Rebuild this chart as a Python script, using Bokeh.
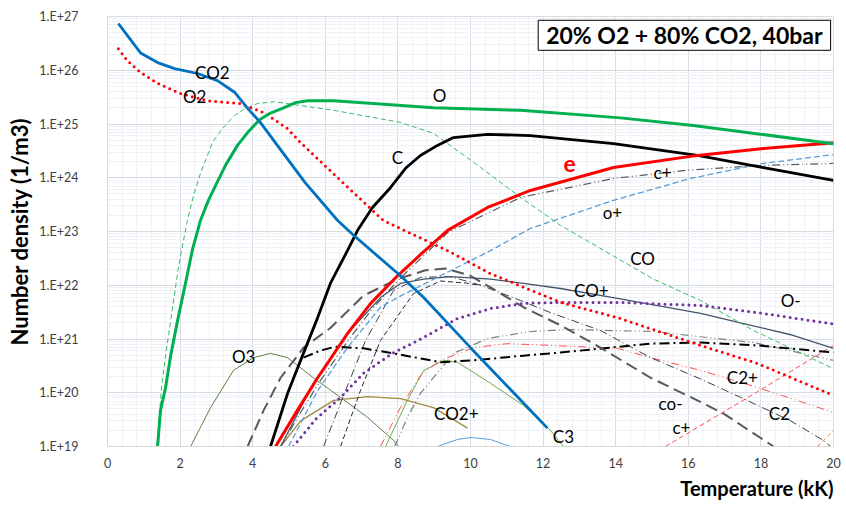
from bokeh.plotting import figure
from bokeh.models import FixedTicker, CustomJSTickFormatter, Label, Title, Range1d
from bokeh.embed import file_html
from bokeh.resources import INLINE

# ---- data: temperature (kK) and number density (1/m3) ----
co2_T = [0.30, 0.55, 0.91, 1.38, 1.85, 2.48, 3.03, 3.50, 3.86, 4.21, 4.68, 5.45, 6.34, 6.78, 8.07, 8.71, 10.0, 12.12]
co2_N = [7.4e26, 4.4e26, 2.1e26, 1.39e26, 1.07e26, 8.7e25, 6.4e25, 3.9e25, 1.95e25, 1.07e25, 4.0e24, 8.0e23, 1.6e23, 8.5e22, 1.5e22, 5.9e21, 6.9e20, 2.2e19]

o2_T = [0.30, 0.55, 0.91, 1.38, 2.01, 2.75, 3.66, 4.33, 4.96, 5.32, 6.42, 7.60, 9.37, 10.55, 12.48, 14.05, 16.34, 17.91, 20.0]
o2_N = [2.5e26, 1.5e26, 9.1e25, 5.7e25, 3.7e25, 2.7e25, 2.4e25, 1.6e25, 8.2e24, 4.5e24, 8.9e23, 1.6e23, 4.4e22, 1.65e22, 4.8e21, 2.5e21, 7.6e20, 3.5e20, 8.9e19]

o_T = [1.38, 1.46, 1.60, 1.74, 1.93, 2.15, 2.34, 2.56, 2.78, 2.98, 3.25, 3.58, 3.88, 4.19, 4.49, 4.85, 5.18, 5.51, 6.23, 8.98, 11.38, 14.13, 16.14, 20.0]
o_N = [1.0e19, 4.7e19, 1.25e20, 4.9e20, 2.2e21, 1.1e22, 4.6e22, 1.6e23, 3.8e23, 7.2e23, 1.7e24, 4.0e24, 7.2e24, 1.2e25, 1.6e25, 2.0e25, 2.5e25, 2.7e25, 2.7e25, 2.0e25, 1.8e25, 1.3e25, 9.4e24, 4.3e24]

co_T = [1.36, 1.49, 1.60, 1.74, 1.96, 2.20, 2.37, 2.56, 2.89, 3.17, 3.50, 3.80, 4.13, 4.60, 6.23, 8.07, 8.98, 10.28, 11.38, 12.48, 15.04, 16.34, 17.80, 20.0]
co_N = [1.0e19, 1.26e20, 4.9e20, 2.2e21, 2.3e22, 1.6e23, 4.7e23, 1.2e24, 4.5e24, 8.3e24, 1.44e25, 1.95e25, 2.4e25, 2.6e25, 1.8e25, 1.07e25, 6.7e24, 1.55e24, 4.3e23, 1.3e23, 1.3e22, 5.2e21, 1.44e21, 2.8e20]

c_T = [4.49, 4.96, 5.32, 5.79, 6.14, 6.61, 6.89, 7.30, 7.80, 8.21, 8.62, 9.09, 9.53, 10.47, 11.65, 13.94, 16.25, 18.07, 20.0]
c_N = [1.0e19, 9.7e19, 4.0e20, 2.5e21, 1.08e22, 4.4e22, 1.05e23, 2.8e23, 6.6e23, 1.5e24, 2.6e24, 4.0e24, 5.6e24, 6.4e24, 6.1e24, 4.3e24, 2.6e24, 1.55e24, 8.9e23]

e_T = [4.63, 5.23, 5.79, 6.61, 7.25, 7.99, 8.62, 9.37, 10.47, 11.65, 13.94, 16.06, 18.07, 20.0]
e_N = [1.0e19, 4.7e19, 1.9e20, 1.26e21, 4.6e21, 1.5e22, 3.7e22, 1.05e23, 2.8e23, 5.8e23, 1.55e24, 2.5e24, 3.5e24, 4.5e24]

cp_T = [4.77, 5.32, 5.87, 6.69, 7.33, 8.04, 9.37, 11.38, 13.94, 16.06, 18.07, 20.0]
cp_N = [1.0e19, 4.3e19, 1.7e20, 1.07e21, 3.9e21, 1.3e22, 9.6e22, 4.3e23, 9.7e23, 1.4e24, 1.7e24, 1.85e24]

op_T = [4.99, 5.79, 6.61, 7.52, 7.99, 9.17, 10.55, 11.65, 13.94, 16.06, 18.07, 20.0]
op_N = [1.0e19, 1.1e20, 6.9e20, 3.9e21, 5.9e21, 1.5e22, 4.4e22, 1.14e23, 3.8e23, 9.7e23, 1.85e24, 2.7e24]

com_T = [3.86, 4.30, 4.77, 5.40, 6.14, 7.05, 7.99, 8.76, 9.31, 10.0, 10.55, 11.46, 12.48, 13.58, 14.96, 16.25, 16.97, 18.35]
com_N = [1.0e19, 4.7e19, 1.9e20, 6.9e20, 1.6e21, 6.4e21, 1.3e22, 1.9e22, 2.05e22, 1.5e22, 9.1e21, 3.9e21, 1.8e21, 6.9e20, 1.9e20, 7.2e19, 4.1e19, 1.0e19]

cop_T = [4.77, 5.67, 6.61, 7.52, 8.07, 8.71, 9.45, 10.55, 11.46, 12.48, 14.05, 16.34, 17.44, 18.82, 20.0]
cop_N = [1.0e19, 1.5e20, 1.26e21, 5.9e21, 1.08e22, 1.3e22, 1.45e22, 1.3e22, 1.08e22, 8.7e21, 5.7e21, 3.0e21, 2.0e21, 1.2e21, 6.7e20]

om_T = [5.12, 5.73, 6.42, 7.05, 7.85, 8.71, 9.64, 10.55, 11.46, 12.48, 14.05, 16.34, 17.91, 20.0]
om_N = [1.0e19, 3.2e19, 8.2e19, 2.3e20, 5.4e20, 1.07e21, 2.4e21, 3.7e21, 4.6e21, 4.8e21, 4.8e21, 4.2e21, 3.1e21, 1.9e21]

bdd_T = [5.40, 5.87, 6.28, 7.05, 7.88, 9.17, 10.08, 11.46, 12.48, 14.96, 16.34, 17.91, 20.0]
bdd_N = [4.5e20, 6.1e20, 7.2e20, 6.7e20, 5.4e20, 3.7e20, 4.0e20, 4.9e20, 5.6e20, 8.2e20, 8.6e20, 7.6e20, 5.6e20]

g2_T = [7.91, 8.29, 8.62, 9.53, 10.47, 11.65, 12.67, 15.04, 16.34, 17.80, 20.0]
g2_N = [1.0e19, 3.8e19, 9.7e19, 5.4e20, 1.02e21, 1.38e21, 1.5e21, 1.38e21, 1.1e21, 8.6e20, 4.0e20]

c2p_T = [7.52, 8.07, 8.62, 9.17, 10.08, 11.02, 12.20, 14.05, 14.96, 16.34, 17.91, 20.0]
c2p_N = [1.0e19, 5.3e19, 2.1e20, 4.0e20, 6.9e20, 8.2e20, 7.6e20, 6.7e20, 4.5e20, 2.6e20, 1.25e20, 4.3e19]

c2_T = [5.95, 6.56, 7.11, 7.88, 8.62, 9.45, 10.28, 11.38, 12.20, 13.58, 14.96, 16.34, 17.44, 18.82, 19.72, 19.92]
c2_N = [1.0e19, 1.1e20, 9.4e20, 8.0e21, 1.4e22, 1.45e22, 1.0e22, 5.2e21, 3.1e21, 1.44e21, 4.5e20, 1.8e20, 8.2e19, 3.0e19, 1.3e19, 1.0e19]

bd_T = [6.42, 6.97, 7.52, 8.43, 9.17, 9.86, 10.28]
bd_N = [1.0e19, 1.1e20, 9.4e20, 7.0e21, 1.2e22, 1.1e22, 1.0e22]

o3_T = [2.29, 2.84, 3.47, 4.02, 4.49, 4.96, 5.67, 6.42, 7.16, 7.88, 8.02]
o3_N = [1.0e19, 5.3e19, 2.6e20, 4.5e20, 5.4e20, 4.5e20, 1.9e20, 8.2e19, 3.5e19, 1.3e19, 1.0e19]

co2p_T = [4.77, 5.32, 6.23, 7.16, 8.07, 8.98, 9.92]
co2p_N = [1.0e19, 3.0e19, 7.2e19, 8.5e19, 7.8e19, 5.3e19, 2.2e19]

c3_T = [7.66, 8.26, 8.71, 9.26, 9.64, 10.55, 11.46, 12.20, 12.56]
c3_N = [1.0e19, 7.2e19, 2.6e20, 4.0e20, 3.7e20, 1.5e20, 5.8e19, 2.0e19, 1.0e19]

lb_T = [9.09, 9.64, 10.0, 10.55, 11.10]
lb_N = [1.0e19, 1.35e19, 1.47e19, 1.35e19, 1.0e19]

rd_T = [15.37, 17.91, 20.0]
rd_N = [1.0e19, 1.05e20, 7.6e20]

or_T = [19.56, 20.0]
or_N = [1.0e19, 2.0e19]

x_ticks = [0, 2, 4, 6, 8, 10, 12, 14, 16, 18, 20]
y_ticks = [1e19, 1e20, 1e21, 1e22, 1e23, 1e24, 1e25, 1e26, 1e27]

FONT = "Lato"

p = figure(width=846, height=505, output_backend="svg", toolbar_location=None,
           x_range=Range1d(0, 20), y_range=Range1d(1e19, 1e27), y_axis_type="log",
           min_border_left=107, min_border_right=13, min_border_top=16, min_border_bottom=59)
p.background_fill_color = "white"
p.border_fill_color = "white"
p.outline_line_color = "#D9DCE2"

x_minor = [round(i * 0.4, 2) for i in range(51)]
y_minor = [k * 10.0 ** n for n in range(19, 27) for k in range(2, 10)]
p.xaxis.ticker = FixedTicker(ticks=x_ticks, minor_ticks=x_minor)
p.yaxis.ticker = FixedTicker(ticks=y_ticks, minor_ticks=y_minor)
p.yaxis.formatter = CustomJSTickFormatter(code="return '1.E+' + Math.round(Math.log10(tick));")

for ax in (p.xaxis, p.yaxis):
    ax.axis_line_color = "#D9D9D9"
    ax.major_tick_line_color = None
    ax.minor_tick_line_color = None
    ax.major_tick_out = 0
    ax.major_label_text_font = FONT
    ax.major_label_text_font_size = "12.5px"
    ax.major_label_text_color = "#404040"
p.yaxis.major_label_standoff = 25
p.xaxis.major_label_standoff = 7

p.yaxis.axis_label = "Number density (1/m3)"
p.yaxis.axis_label_text_font = FONT
p.yaxis.axis_label_text_font_style = "bold"
p.yaxis.axis_label_text_font_size = "22px"
p.yaxis.axis_label_text_color = "black"
p.yaxis.axis_label_standoff = 3

p.add_layout(Title(text="Temperature (kK)", align="right", text_font=FONT, text_font_style="bold",
                   text_font_size="20px", text_color="black", standoff=6, offset=0), "below")

for g in (p.xgrid, p.ygrid):
    g.grid_line_color = "#D6DCE5"
    g.minor_grid_line_color = "#EEF1F5"
    g.grid_line_width = 1

# ---- thin series first ----
p.line(lb_T, lb_N, line_color="#5B9BD5", line_width=1)
p.line(or_T, or_N, line_color="#ED7D31", line_width=1, line_dash="4 3")
p.line(rd_T, rd_N, line_color="#FF5050", line_width=1, line_dash="5 3")
p.line(o3_T, o3_N, line_color="#5E8040", line_width=1)
p.line(c3_T, c3_N, line_color="#70AD47", line_width=1)
p.line(co2p_T, co2p_N, line_color="#A08A3C", line_width=1.3)
p.line(c2p_T, c2p_N, line_color="#FF5050", line_width=1, line_dash="8 3 1 3 1 3")
p.line(g2_T, g2_N, line_color="#7F7F7F", line_width=1.2, line_dash="8 3 1 3 1 3")
p.line(c2_T, c2_N, line_color="#404040", line_width=1, line_dash="8 3 1 3")
p.line(bd_T, bd_N, line_color="#262626", line_width=1, line_dash="5 3")
p.line(cop_T, cop_N, line_color="#44546A", line_width=1.3)
p.line(op_T, op_N, line_color="#5B9BD5", line_width=1.3, line_dash="6 3")
p.line(cp_T, cp_N, line_color="#595959", line_width=1.2, line_dash="8 3 1 3 1 3")
p.line(co_T, co_N, line_color="#3CB96A", line_width=1, line_dash="5 3")
p.line(bdd_T, bdd_N, line_color="black", line_width=2, line_dash="10 4 2 4")
p.line(com_T, com_N, line_color="#595959", line_width=2, line_dash="12 6")
p.line(om_T, om_N, line_color="#7030A0", line_width=3, line_dash="0 6", line_cap="round")
p.line(o2_T, o2_N, line_color="#FF0000", line_width=3, line_dash="0 6", line_cap="round")
# ---- thick series ----
p.line(c_T, c_N, line_color="black", line_width=2.8)
p.line(e_T, e_N, line_color="#FF0000", line_width=3)
p.line(o_T, o_N, line_color="#00B050", line_width=3)
p.line(co2_T, co2_N, line_color="#0070C0", line_width=2.8)

# ---- curve labels ----
labels = [
    ("CO2", 2.89, 9.1e25), ("O2", 2.40, 3.25e25), ("O", 9.15, 3.4e25), ("C", 7.99, 2.4e24),
    ("c+", 15.29, 1.25e24), ("o+", 13.91, 2.25e23), ("CO", 14.74, 3.15e22),
    ("CO+", 13.33, 8.0e21), ("O-", 18.82, 5.2e21), ("O3", 3.75, 4.7e20),
    ("CO2+", 9.61, 4.1e19), ("C3", 12.56, 1.54e19), ("C2+", 17.49, 1.92e20),
    ("co-", 15.51, 6.3e19), ("c+", 15.81, 2.25e19), ("C2", 18.51, 4.1e19),
]
for txt, lx, ly in labels:
    p.add_layout(Label(x=lx, y=ly, text=txt, text_align="center", text_baseline="middle",
                       text_font=FONT, text_font_size="17px", text_color="black"))
p.add_layout(Label(x=12.73, y=1.84e24, text="e", text_align="center", text_baseline="middle",
                   text_font=FONT, text_font_size="23px", text_font_style="bold", text_color="#FF0000"))

p.add_layout(Label(x=19.92, y=8.5e26, text="20% O2 + 80% CO2, 40bar", text_align="right",
                   text_baseline="top", text_font=FONT, text_font_size="23px", text_font_style="bold",
                   text_color="black", border_line_color="black", border_line_width=1,
                   background_fill_color="white", padding=dict(left=8, right=8, top=1, bottom=1)))

open("out.html", "w").write(file_html(p, INLINE))
